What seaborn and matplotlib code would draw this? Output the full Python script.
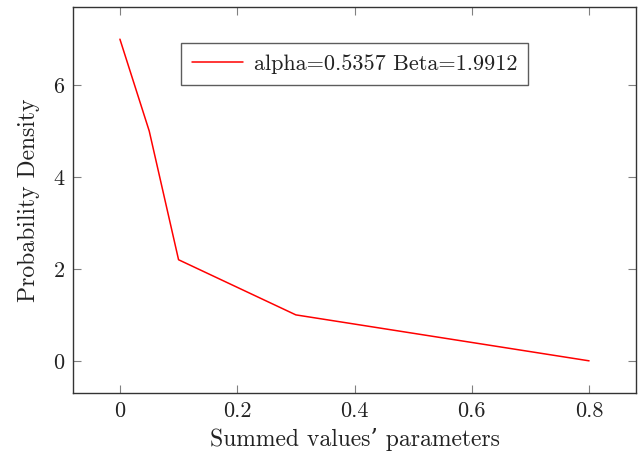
import matplotlib
matplotlib.use("Agg")
import matplotlib.pyplot as plt
import seaborn as sns
import pandas as pd

x_values = [0.0, 0.05, 0.1, 0.3, 0.8]
y_values = [7.0, 5.0, 2.2, 1.0, 0.0]
series_label = "alpha=0.5357 Beta=1.9912"
x_ticks = [0, 0.2, 0.4, 0.6, 0.8]
x_tick_labels = ["0", "0.2", "0.4", "0.6", "0.8"]
y_ticks = [0, 2, 4, 6]
y_tick_labels = ["0", "2", "4", "6"]

sns.set_style("ticks")
plt.rcParams['font.family'] = ['cmr10', 'DejaVu Serif']
plt.rcParams['axes.formatter.use_mathtext'] = True

df = pd.DataFrame({"x": x_values, "y": y_values, "s": [series_label] * len(x_values)})

fig = plt.figure(figsize=(6.4, 4.61), dpi=100)
ax = fig.add_axes([73 / 640, 1 - 393 / 461, (636 - 73) / 640, (393 - 7) / 461])
sns.lineplot(data=df, x="x", y="y", hue="s", palette=["#ff0000"], ax=ax,
             linewidth=1.1, sort=False, estimator=None)

ax.set_xlim(-0.08, 0.88)
ax.set_ylim(-0.7, 7.7)
ax.set_xticks(x_ticks)
ax.set_xticklabels(x_tick_labels)
ax.set_yticks(y_ticks)
ax.set_yticklabels(y_tick_labels)
ax.tick_params(direction="in", length=6, width=0.8, color="#808080",
               top=True, right=True, labelsize=16, pad=6, labelcolor="#222222")
for sp in ax.spines.values():
    sp.set_visible(True)
    sp.set_linewidth(1.0)
    sp.set_color("#333333")

ax.set_xlabel("Summed values\u2019 parameters", fontsize=17, color="#222222", labelpad=5)
ax.set_ylabel("Probability Density", fontsize=17, color="#222222", labelpad=10)

leg = ax.legend(loc="upper center", bbox_to_anchor=(0.5, 0.907), fontsize=16,
                frameon=True, fancybox=False, edgecolor="#333333",
                handlelength=2.3, borderpad=0.5, handletextpad=0.5,
                borderaxespad=0)
leg.get_frame().set_linewidth(1.0)
for t in leg.get_texts():
    t.set_color("#222222")

fig.savefig("out.png", dpi=100)
